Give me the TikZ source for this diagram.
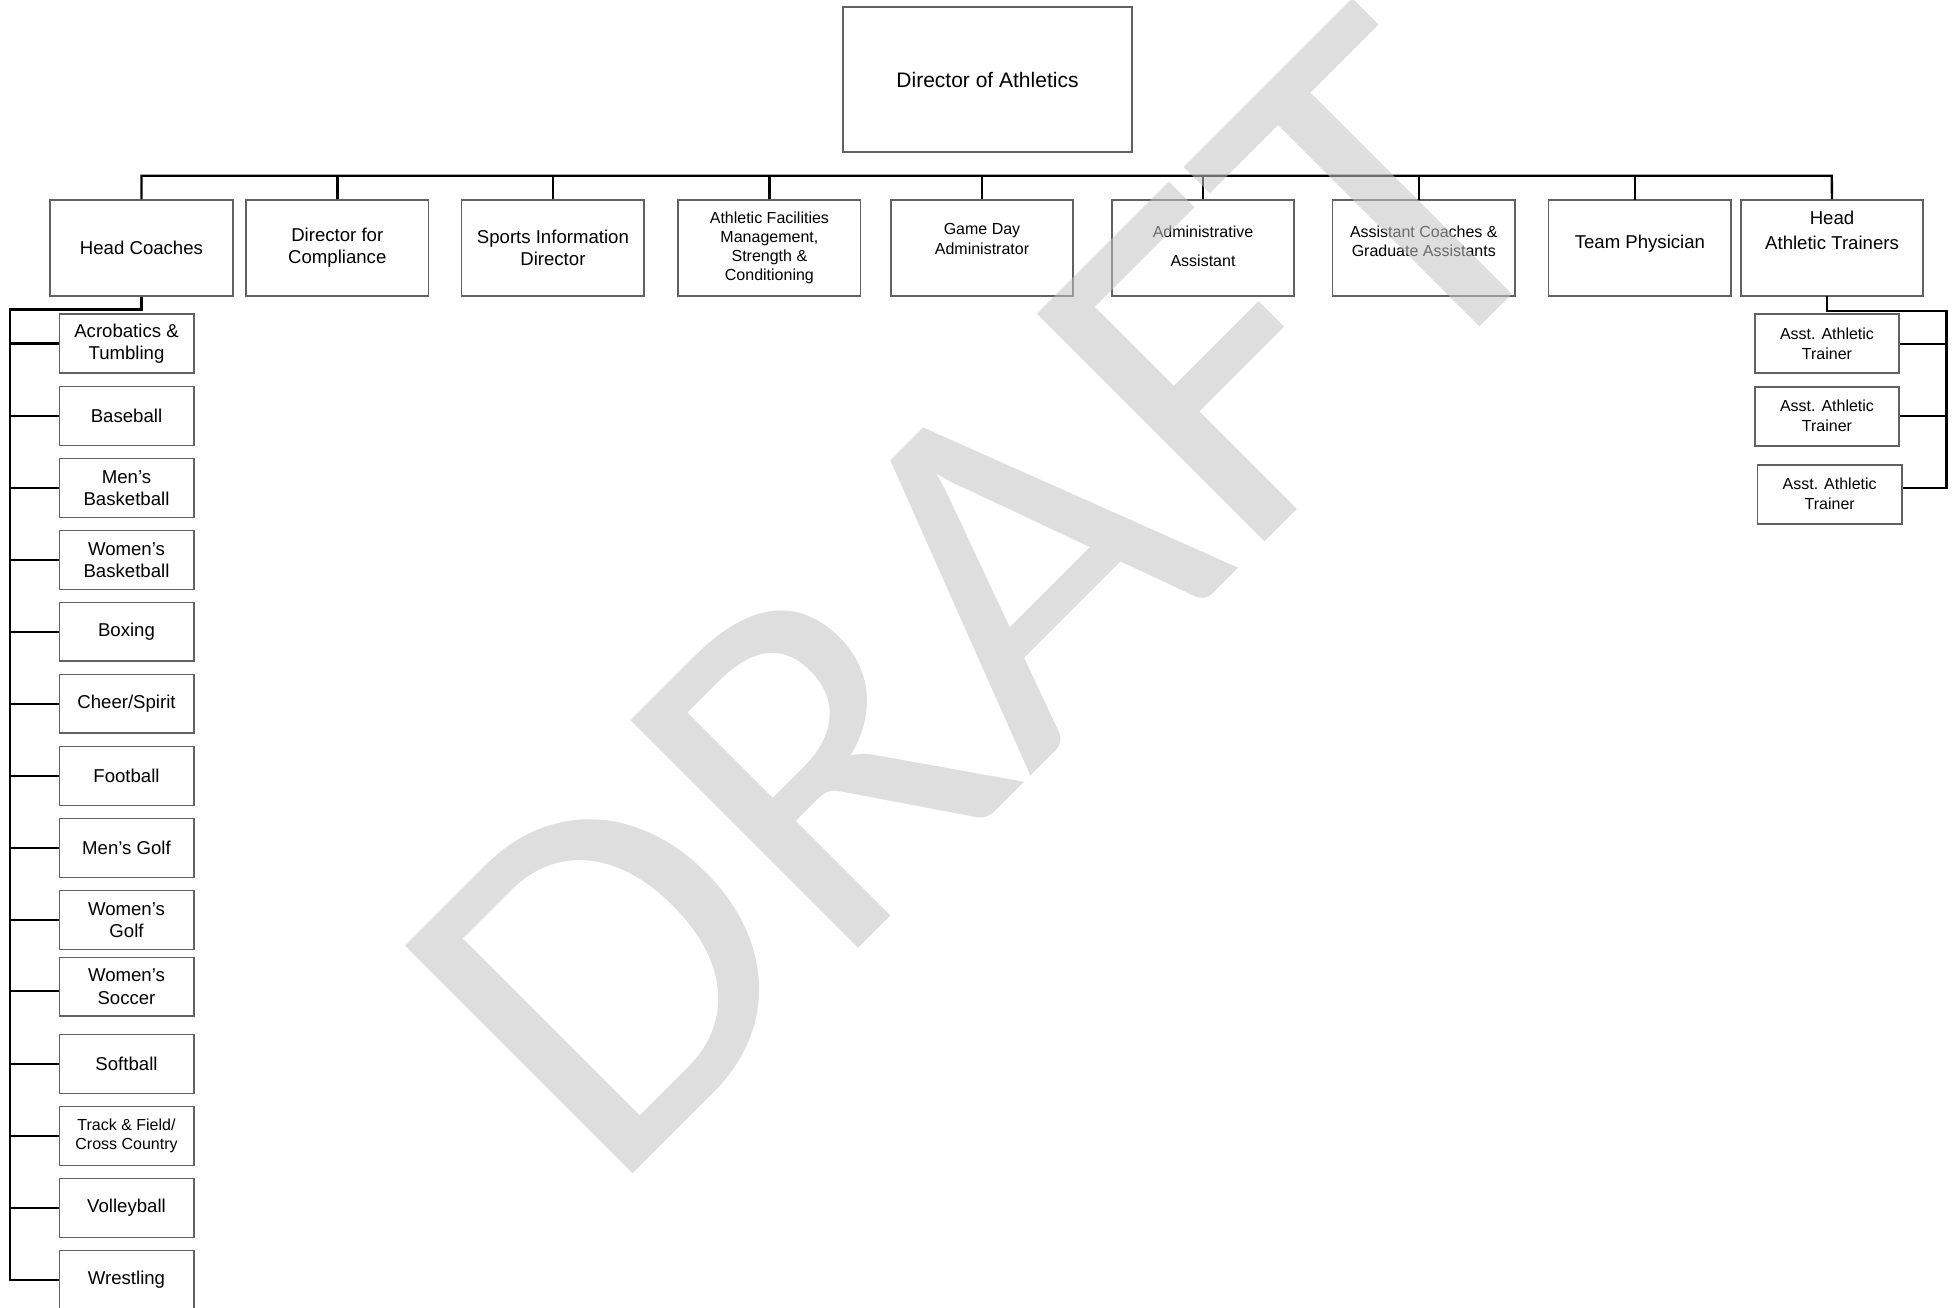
\documentclass[tikz,border=0pt]{standalone}
\usepackage{fontspec}
\setmainfont{Liberation Sans}
\newfontfamily\wmfont{Carlito}
\definecolor{wmgray}{RGB}{195,195,195}
\newcommand\szL{\fontsize{10.5}{12.6}\selectfont}
\newcommand\szM{\fontsize{9.3}{11.15}\selectfont}
\newcommand\szS{\fontsize{8}{9.6}\selectfont}
\newcommand\szT{\fontsize{8}{10}\selectfont}
\begin{document}
\begin{tikzpicture}[x=0.5pt,y=-0.5pt,
  frame/.style={draw=black!62, line width=0.8pt, inner sep=0pt, align=center},
  topbox/.style={frame, minimum width=144.5pt, minimum height=72.5pt, font=\szL},
  rowbox/.style={frame, minimum width=91.25pt, minimum height=48pt, font=\szM},
  sportbox/.style={frame, minimum width=67.2pt, minimum height=29.35pt, font=\szM},
  trainerbox/.style={frame, minimum width=72.1pt, minimum height=29.5pt, font=\szT},
  caption/.style={inner sep=0pt, align=center},
  link/.style={draw=black, line width=1.2pt},
  watermark/.style={inner sep=0pt, text=wmgray, opacity=0.55, font=\wmfont\fontsize{251}{251}\selectfont}
]
\useasboundingbox (0,0) rectangle (1959,1307);

% ---------- top ----------
\node[topbox] (dir) at (987.5,79.5) {Director of Athletics};

% ---------- second row ----------
\node[rowbox] (hc)   at (141.5,248) {Head Coaches};
\node[rowbox] (comp) at (337.3,248) {Director for\\Compliance};
\node[rowbox] (sid)  at (552.9,248) {Sports Information\\Director};
\node[rowbox, font=\szS] (fac) at (769.4,248) {Athletic Facilities\\Management,\\Strength \&\\Conditioning};
\node[rowbox] (gda)  at (982,248) {};
\node[caption, font=\szS] (gdat) at (982,239) {Game Day\\Administrator};
\node[rowbox] (adm)  at (1203,248) {};
\node[caption, font=\szS] (admt) at (1203,246) {Administrative\\[4.9pt]Assistant};
\node[rowbox] (asc)  at (1423.8,248) {};
\node[caption, font=\szS] (asct) at (1423.8,241) {Assistant Coaches \&\\Graduate Assistants};
\node[rowbox] (phy)  at (1639.9,248) {};
\node[caption, font=\szM] (phyt) at (1639.9,243.5) {Team Physician};
\node[rowbox] (hat)  at (1832,248) {};
\node[caption, font=\szM] (hatt) at (1832,230.5) {Head\\[1.35pt]Athletic Trainers};

% ---------- bus from the director ----------
\coordinate (busL) at (141.5,175.7);
\coordinate (busR) at (1831.7,175.7);
\draw[link] (hc.north) |- (busR) -- (hat.north);
\foreach \n in {comp,sid,fac,gda,adm} \draw[link] (\n.north) -- (\n.north |- busL);
\draw[link] (1419,200) -- (1419,175.7);
\draw[link] (1635,200) -- (1635,175.7);

% ---------- sports under the head coaches ----------
\node[sportbox] (acro) at (126.5,343.4) {Acrobatics \&\\Tumbling};
\node[sportbox] (base) at (126.5,416)   {Baseball};
\node[sportbox] (mbb)  at (126.5,488)   {Men’s\\Basketball};
\node[sportbox] (wbb)  at (126.5,560)   {Women’s\\Basketball};
\node[sportbox] (box)  at (126.5,631.7) {Boxing};
\node[sportbox] (chr)  at (126.5,703.7) {Cheer/Spirit};
\node[sportbox] (fb)   at (126.5,776)   {Football};
\node[sportbox] (mgo)  at (126.5,848)   {Men’s Golf};
\node[sportbox] (wgo)  at (126.5,920)   {Women’s\\Golf};
\node[sportbox] (wso)  at (126.5,986.7) {Women’s\\Soccer};
\node[sportbox] (sof)  at (126.5,1064)  {Softball};
\node[sportbox, font=\szS] (trk) at (126.5,1136) {Track \& Field/\\Cross Country};
\node[sportbox] (vol)  at (126.5,1208)  {Volleyball};
\node[sportbox] (wre)  at (126.5,1280)  {Wrestling};

\coordinate (hcknee) at (10,309.3);
\coordinate (hcend)  at (10,1280);
\draw[link] (hc.south) -- (hc.south |- hcknee) -- (hcknee) -- (hcend) -- (wre.west);
\foreach \n in {acro,base,mbb,wbb,box,chr,fb,mgo,wgo,sof,trk,vol}
  \draw[link] (\n.west -| hcknee) -- (\n.west);
\draw[link] (10,991) -- (59.3,991);

% ---------- trainers under the head athletic trainers ----------
\node[trainerbox] (at1) at (1827,343.7)   {Asst. Athletic\\Trainer};
\node[trainerbox] (at2) at (1827,416.2)   {Asst. Athletic\\Trainer};
\node[trainerbox] (at3) at (1829.7,494.2) {Asst. Athletic\\Trainer};

\coordinate (hatknee) at (1946.5,311);
\coordinate (hatend)  at (1946.5,488);
\draw[link] (1826.7,296) -- (1826.7,311) -- (hatknee) -- (hatend) -- (at3.east |- hatend);
\draw[link] (at1.east) -- (at1.east -| hatknee);
\draw[link] (at2.east) -- (at2.east -| hatknee);

% ---------- watermark ----------
\node[watermark, rotate=45, xscale=1.025, anchor=base west] (draft) at (608,1199) {DRAFT};
\end{tikzpicture}
\end{document}
